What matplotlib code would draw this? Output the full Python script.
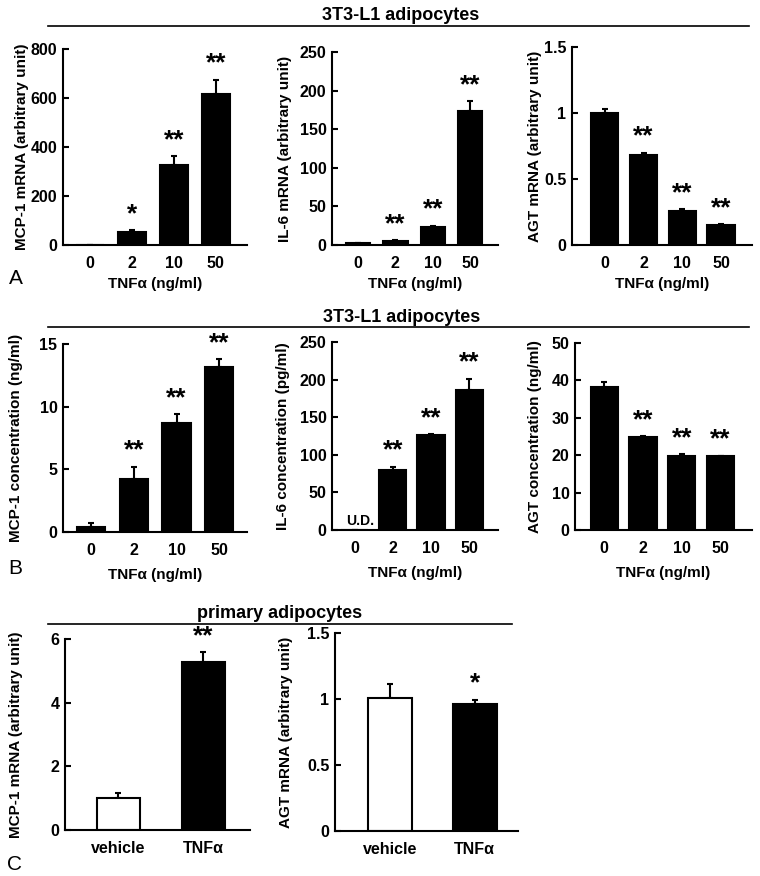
import matplotlib
matplotlib.use("Agg")
import matplotlib.pyplot as plt
from matplotlib.lines import Line2D

plt.rcParams['font.family'] = ['Liberation Sans', 'DejaVu Sans']

# ---------------- data ----------------
doses = ['0', '2', '10', '50']
groups_c = ['vehicle', 'TNF\u03b1']

mcp1_mrna = [1, 53, 325, 615]
mcp1_mrna_err = [0, 7, 37, 60]
il6_mrna = [2, 5.5, 23.5, 173]
il6_mrna_err = [0, 0.5, 1.5, 13]
agt_mrna = [1.0, 0.685, 0.26, 0.148]
agt_mrna_err = [0.03, 0.015, 0.012, 0.008]

mcp1_conc = [0.4, 4.2, 8.7, 13.2]
mcp1_conc_err = [0.3, 1.0, 0.7, 0.6]
il6_conc = [0, 80, 126, 186]
il6_conc_err = [0, 4, 1, 15]
agt_conc = [38.2, 24.8, 19.8, 19.8]
agt_conc_err = [1.5, 0.3, 0.5, 0.1]

prim_mcp1 = [1.0, 5.27]
prim_mcp1_err = [0.17, 0.32]
prim_agt = [1.005, 0.965]
prim_agt_err = [0.11, 0.03]

sig_a1 = ['', '*', '**', '**']
sig_std = ['', '**', '**', '**']
sig_c1 = ['', '**']
sig_c2 = ['', '*']

W, H = 760, 876
fig = plt.figure(figsize=(W / 100, H / 100), dpi=100)


def add_ax(x0, x1, ytop, ybot):
    return fig.add_axes([x0 / W, 1 - ybot / H, (x1 - x0) / W, (ybot - ytop) / H])


def bar_panel(box, vals, errs, sigs, labels, ylim, yticks, yticklabels, ylabel,
              xlim, width, label_right, xlabel=None, colors=None, xlabelpad=4):
    ax = add_ax(*box)
    x = list(range(len(vals)))
    if colors is None:
        colors = ['black'] * len(vals)
    ax.bar(x, vals, width=width, color=colors, edgecolor='black', linewidth=1.5, zorder=2)
    ax.errorbar(x, vals, yerr=[[0] * len(vals), errs], fmt='none', ecolor='black',
                elinewidth=1.5, capsize=2.5, capthick=1.5, zorder=1)
    for xi, v, e, s in zip(x, vals, errs, sigs):
        if s:
            ax.annotate(s, (xi, v + e), xytext=(0, 3), textcoords='offset points',
                        ha='center', va='bottom', fontsize=19, fontweight='bold')
    ax.set_xlim(*xlim)
    ax.set_ylim(*ylim)
    ax.set_yticks(yticks)
    ax.set_yticklabels(yticklabels)
    ax.set_xticks(x)
    ax.set_xticklabels(labels)
    for s in ['top', 'right']:
        ax.spines[s].set_visible(False)
    for s in ['left', 'bottom']:
        ax.spines[s].set_linewidth(1.5)
    ax.tick_params(axis='y', direction='in', length=4, width=1.5, labelsize=11.5, pad=4)
    ax.tick_params(axis='x', length=0, labelsize=11.5, pad=8)
    for lab in ax.get_xticklabels() + ax.get_yticklabels():
        lab.set_fontweight('bold')
    ax.set_ylabel(ylabel, fontsize=11, fontweight='bold')
    # right edge of the rotated y-label at a given pixel column
    x0 = box[0]
    ax.yaxis.set_label_coords((label_right - x0) / (box[1] - x0), 0.5)
    if xlabel:
        ax.set_xlabel(xlabel, fontsize=11, fontweight='bold', labelpad=xlabelpad)
    return ax


xl = 'TNF\u03b1 (ng/ml)'

# Panel A
bar_panel((63, 247, 49, 245), mcp1_mrna, mcp1_mrna_err, sig_a1, doses, (0, 800),
          [0, 200, 400, 600, 800], ['0', '200', '400', '600', '800'],
          'MCP-1 mRNA (arbitrary unit)', (-0.64, 3.74), 0.67, 29, xl, xlabelpad=4)
bar_panel((332, 498, 52, 245), il6_mrna, il6_mrna_err, sig_std, doses, (0, 250),
          [0, 50, 100, 150, 200, 250], ['0', '50', '100', '150', '200', '250'],
          'IL-6 mRNA (arbitrary unit)', (-0.70, 3.75), 0.65, 292, xl, xlabelpad=4)
bar_panel((572, 752, 47, 245), agt_mrna, agt_mrna_err, sig_std, doses, (0, 1.5),
          [0, 0.5, 1, 1.5], ['0', '0.5', '1', '1.5'],
          'AGT mRNA (arbitrary unit)', (-0.85, 3.80), 0.70, 542, xl, xlabelpad=4)

# Panel B
bar_panel((63, 247, 344, 532), mcp1_conc, mcp1_conc_err, sig_std, doses, (0, 15),
          [0, 5, 10, 15], ['0', '5', '10', '15'],
          'MCP-1 concentration (ng/ml)', (-0.66, 3.65), 0.66, 23, xl, xlabelpad=7)
axb2 = bar_panel((332, 498, 342, 530), il6_conc, il6_conc_err, sig_std, doses, (0, 250),
                 [0, 50, 100, 150, 200, 250], ['0', '50', '100', '150', '200', '250'],
                 'IL-6 concentration (pg/ml)', (-0.60, 3.76), 0.71, 290, xl, xlabelpad=7)
axb2.text(0.15, 12, 'U.D.', ha='center', va='center', fontsize=10, fontweight='bold')
bar_panel((575, 752, 343, 530), agt_conc, agt_conc_err, sig_std, doses, (0, 50),
          [0, 10, 20, 30, 40, 50], ['0', '10', '20', '30', '40', '50'],
          'AGT concentration (ng/ml)', (-0.75, 3.81), 0.70, 542, xl, xlabelpad=7)

# Panel C
bar_panel((65, 250, 639, 830), prim_mcp1, prim_mcp1_err, sig_c1, groups_c, (0, 6),
          [0, 2, 4, 6], ['0', '2', '4', '6'],
          'MCP-1 mRNA (arbitrary unit)', (-0.63, 1.55), 0.51, 23, colors=['white', 'black'])
bar_panel((335, 518, 633, 831), prim_agt, prim_agt_err, sig_c2, groups_c, (0, 1.5),
          [0, 0.5, 1, 1.5], ['0', '0.5', '1', '1.5'],
          'AGT mRNA (arbitrary unit)', (-0.65, 1.51), 0.52, 293, colors=['white', 'black'])

# Section titles and rules
def rule(x0, x1, y):
    fig.add_artist(Line2D([x0 / W, x1 / W], [1 - y / H, 1 - y / H], color='black', lw=1.2))

fig.text(401 / W, 1 - 15 / H, '3T3-L1 adipocytes', ha='center', va='center', fontsize=13, fontweight='bold')
rule(48, 749, 26)
fig.text(402 / W, 1 - 318 / H, '3T3-L1 adipocytes', ha='center', va='center', fontsize=13, fontweight='bold')
rule(48, 749, 327)
fig.text(280 / W, 1 - 614 / H, 'primary adipocytes', ha='center', va='center', fontsize=13, fontweight='bold')
rule(48, 512, 624)

# Panel letters
fig.text(16 / W, 1 - 278 / H, 'A', ha='center', va='center', fontsize=15)
fig.text(15 / W, 1 - 568 / H, 'B', ha='center', va='center', fontsize=15)
fig.text(15 / W, 1 - 865 / H, 'C', ha='center', va='center', fontsize=15)

fig.savefig('out.png', dpi=100)
